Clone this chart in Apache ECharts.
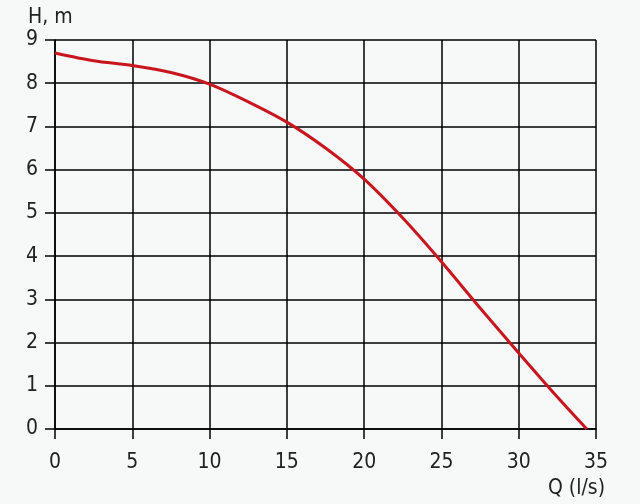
<!DOCTYPE html>
<html><head><meta charset="utf-8">
<script src="https://cdn.jsdelivr.net/npm/echarts@6/dist/echarts.min.js"></script>
<style>html,body{margin:0;padding:0;background:#f7f8f8;}#c{width:640px;height:504px;}</style>
</head><body><div id="c"></div>
<script>
const flowQ = [0, 2.5, 5, 7.5, 10, 12.5, 15, 17.5, 20, 22.5, 25, 27.5, 30, 32.5, 34.4];
const headH = [8.70, 8.52, 8.41, 8.25, 7.98, 7.57, 7.10, 6.50, 5.78, 4.88, 3.87, 2.80, 1.76, 0.74, 0];
const xTitle = 'Q (l/s)';
const yTitle = 'H, m';

const chart = echarts.init(document.getElementById('c'), null, {renderer: 'canvas'});
const fontFam = '"Liberation Sans Narrow", "DejaVu Sans Condensed", sans-serif';
chart.setOption({
  backgroundColor: '#f7f8f8',
  animation: false,
  grid: {left: 55, right: 44, top: 40, bottom: 75, show: false},
  xAxis: {
    type: 'value', min: 0, max: 35, interval: 5,
    axisLine: {show: true, onZero: false, lineStyle: {color: '#000', width: 1.5}},
    axisTick: {show: true, length: 10, lineStyle: {color: '#000', width: 1.5}},
    axisLabel: {color: '#222', fontSize: 21, fontFamily: fontFam, margin: 23},
    splitLine: {show: true, lineStyle: {color: '#000', width: 1.5}}
  },
  yAxis: {
    type: 'value', min: 0, max: 9, interval: 1,
    axisLine: {show: true, lineStyle: {color: '#000', width: 1.5}},
    axisTick: {show: true, length: 10, lineStyle: {color: '#000', width: 1.5}},
    axisLabel: {color: '#222', fontSize: 21, fontFamily: fontFam, margin: 17},
    splitLine: {show: true, lineStyle: {color: '#000', width: 1.5}}
  },
  graphic: [
    {type: 'text', left: 28, top: 7, style: {text: yTitle, fill: '#222', font: '21px ' + fontFam}},
    {type: 'text', right: 35, top: 478, style: {text: xTitle, fill: '#222', font: '21px ' + fontFam}}
  ],
  series: [{
    type: 'line', smooth: 0.3, symbol: 'none',
    data: flowQ.map((q, i) => [q, headH[i]]),
    lineStyle: {color: '#c8161e', width: 3}
  }]
});
</script></body></html>
